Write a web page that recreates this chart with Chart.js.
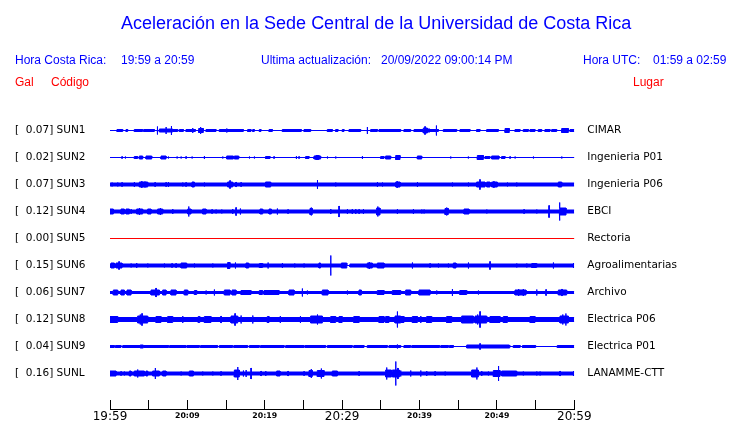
<!DOCTYPE html>
<html><head><meta charset="utf-8">
<script src="https://cdn.jsdelivr.net/npm/chart.js@4/dist/chart.umd.min.js"></script>
<style>
body{margin:0;background:#fff;}
#wrap{position:relative;width:740px;height:423px;overflow:hidden;background:#fff;}
canvas{position:absolute;left:0;top:0;}
.t{position:absolute;font-family:"Liberation Sans",Arial,sans-serif;white-space:pre;line-height:1;}
.b{color:#0000ff;font-size:12px;}
.r{color:#ff0000;font-size:12px;}
</style></head><body>
<div id="wrap">
<canvas id="c" width="740" height="423"></canvas>
<div class="t" style="left:121px;top:14px;font-size:18px;color:#0000ff">Aceleración en la Sede Central de la Universidad de Costa Rica</div>
<div class="t b" style="left:15px;top:54px">Hora Costa Rica:</div>
<div class="t b" style="left:121px;top:54px">19:59 a 20:59</div>
<div class="t b" style="left:261px;top:54px">Ultima actualización:</div>
<div class="t b" style="left:381px;top:54px">20/09/2022 09:00:14 PM</div>
<div class="t b" style="left:583px;top:54px">Hora UTC:</div>
<div class="t b" style="left:653px;top:54px">01:59 a 02:59</div>
<div class="t r" style="left:15px;top:76px">Gal</div>
<div class="t r" style="left:51px;top:76px">Código</div>
<div class="t r" style="left:633px;top:76px">Lugar</div>
</div>
<script>
// ---- data ----
const stationCodes = ['SUN1','SUN2','SUN3','SUN4','SUN5','SUN6','SUN7','SUN8','SUN9','SUNL'];
const galValues    = ['0.07','0.02','0.07','0.12','0.00','0.15','0.06','0.12','0.04','0.16'];
const placeNames   = ['CIMAR','Ingenieria P01','Ingenieria P06','EBCI','Rectoria','Agroalimentarias','Archivo','Electrica P06','Electrica P01','LANAMME-CTT'];
const timeTickMinutes = [0,5,10,15,20,25,30,35,40,45,50,55,60];
const timeTickLabels  = ['19:59','','20:09','','20:19','','20:29','','20:39','','20:49','','20:59'];

// background (quiet) peak-to-peak amplitude of each trace
const baseAmp = [1,1,4,4,1,4,3,5,3,4];

// events: [minute, p2p] for single spikes, [startMin, endMin, p2p] for bursts
const sun1Events = [[0.9,1.64,3],[2.07,2.28,3],[3.14,4.22,3],[4.35,5.73,3],[6.12,9],[6.38,8.1,4],[7.24,8],[7.93,10],[8.1,8.75,3],[8.96,9.48,3],[9.82,11.03,3],[10.68,6],[11.46,12.06,5],[11.7,8],[12.41,13.7,3],[14.13,17.23,3],[15.08,5],[17.79,18.22,3],[18.44,18.65,3],[19.3,19.51,3],[20.55,20.98,3],[22.27,24.72,3],[25.07,25.93,3],[28.09,28.73,3],[29.16,29.46,3],[30.02,30.24,3],[30.89,32.39,3],[33.25,8],[33.69,34.55,3],[34.76,37.56,3],[37.99,38.85,3],[39.29,40.49,3],[40.49,41.01,6],[40.7,9],[41.01,41.35,4],[41.35,42.43,3],[42.17,11],[43.08,44.8,3],[45.23,46.52,3],[47.38,47.81,3],[48.68,50.18,3],[51.05,51.6,5],[52.34,52.98,3],[53.41,54.06,3],[54.28,54.92,3],[55.35,55.78,3],[56.21,56.86,3],[57.08,57.72,3],[58.37,59.23,5],[59.45,60,3]];
const sun2Events = [[1.55,3],[1.98,3],[3.14,3.57,3],[3.79,4.22,4],[4.65,5.39,4],[6.59,7.24,4],[7.54,3],[8.66,3],[9.18,3],[9.82,3],[10.6,3],[12.19,4],[14.56,3],[15.08,15.94,4],[16.07,16.63,4],[18.01,3],[18.65,3],[20.1,20.68,3],[21.19,3],[24.08,4],[24.42,3],[25.28,25.72,3],[26.36,27.22,4],[26.6,27.0,5],[28.09,3],[29.16,3],[32.61,4],[34.98,35.41,3],[35.62,36.27,4],[36.92,37.48,5],[39.72,40.28,4],[44.02,3],[46.3,3],[47.47,48.25,5],[48.46,49.1,3],[49.32,50.27,4],[50.61,51.05,3],[51.69,3],[52.34,3],[54.71,3],[58.37,3]];
const sun3Events = [[0.26,5],[0.99,5],[1.55,5],[3.14,6],[3.79,4.87,6],[4.1,8],[4.5,7],[5.82,6],[7.24,6],[7.54,6],[9.39,5],[9.82,5],[10.6,10.9,6],[12.19,5],[15.2,15.85,6],[15.5,9],[16.28,6],[16.93,6],[20.1,20.76,6],[26.8,10],[29.16,5],[34.55,6],[35.2,5],[36.92,37.48,6],[37.1,8],[39.72,6],[44.24,5],[46.31,5],[47.38,48.46,6],[47.8,11],[48.68,49.1,6],[49.32,50.05,6],[49.6,8],[51.35,5],[52.55,5],[57.94,58.37,6]];
const sun4Events = [[0,0.43,6],[1.42,1.85,6],[2.07,2.5,6],[2.72,6],[3.44,4.22,6],[3.8,8],[4.87,5.3,6],[6.16,6.81,6],[6.5,8],[8.1,6],[10.04,10.47,6],[10.17,11],[11.97,12.41,6],[13.18,5],[13.7,5],[14.43,5],[15.85,6],[16.28,9],[16.84,7],[19.39,19.73,6],[20.55,20.85,6],[21.62,7],[23.0,5],[25.84,26.15,7],[26.0,9],[28.52,6],[29.59,12],[30.67,6],[31.3,6],[31.75,6],[32.18,6],[32.74,6],[34.46,34.89,8],[34.6,11],[37.13,6],[39.2,6],[40.28,5],[40.58,5],[43.29,43.72,7],[43.5,9],[45.75,46.39,6],[48.68,5],[53.5,6],[55.14,5],[56.73,13],[58.07,19],[58.15,58.93,8]];
const sun5Events = [];
const sun6Events = [[0.13,0.56,6],[0.78,1.55,6],[1.16,9],[2.72,5],[3.44,6],[4.87,5],[7.02,5],[8.01,5],[8.53,6],[9.18,9.9,6],[10.9,5],[13.27,5],[15.2,15.5,7],[16.2,7],[17.58,17.92,6],[19.3,19.73,5],[20.42,7],[22.27,6],[23.86,5],[25.07,5],[27.0,27.2,6],[28.52,21],[29.9,30.6,6],[30.6,31.0,1],[33.25,33.9,6],[33.5,8],[34.55,35.41,6],[39.07,7],[41.35,5],[42.43,5],[43.72,5],[44.37,44.71,6],[46.31,7],[49.1,9],[52.55,5],[53.85,5],[54.49,55.14,5],[57.29,7],[59.88,6]];
const sun7Events = [[0.43,0.99,6],[1.42,1.85,6],[2.2,2.72,6],[5.3,6.38,6],[5.94,10],[6.81,7.24,6],[7.88,8.53,6],[9.6,10.04,6],[10.9,11.2,5],[12.41,5],[13.48,7],[14.78,15.51,6],[15.77,16.28,6],[16.93,18.22,5],[19.3,19.7,5],[19.9,21.84,5],[23.13,23.78,6],[24.85,9],[25.5,5],[27.44,28.17,6],[30.67,5],[32.18,32.48,6],[34.55,35.41,5],[36.49,37.56,5],[38.21,38.85,6],[39.93,41.35,6],[42.21,5],[44.24,8],[45.2,46.1,5],[47.6,5],[52.34,53.76,6],[52.8,8],[53.4,8],[55.14,7],[56.34,7],[57.94,59.01,6],[58.4,8]];
const sun8Events = [[0,0.99,7],[3.57,4.87,8],[3.9,11],[4.13,13],[5.94,6.59,7],[7.45,8.1,7],[9.39,8],[11.4,11.6,7],[12.19,13.05,7],[14.34,8],[15.64,16.5,8],[16.15,13],[16.93,9],[18.44,9],[20.33,20.55,7],[22.0,8],[24.6,8],[25.93,27.44,8],[26.8,11],[28.52,29.16,7],[29.6,30.0,7],[31.5,32.2,7],[34.76,35.41,7],[35.62,36.05,7],[36.83,37.56,8],[37.13,17],[37.56,37.99,7],[39.07,39.72,7],[40.15,8],[40.92,41.57,7],[43.5,44.15,7],[45.45,46.95,8],[47.17,48.68,8],[47.5,11],[47.81,17],[49.1,50.4,7],[50.83,51.35,7],[54.28,54.92,7],[58.15,59.23,8],[58.5,11],[58.9,13]];
const sun9Events = [[0.56,0.69,1],[1.42,1.64,1],[3.9,4.3,4],[7.58,7.7,1],[9.82,9.95,1],[11.55,11.7,1],[13.9,14.13,1],[15.85,16.0,1],[17.79,18.01,1],[19.3,19.45,1],[22.5,22.7,1],[25.07,25.2,1],[27.87,28.09,1],[31.3,31.5,1],[32.82,33.25,1],[35.84,36.05,1],[37.13,5],[37.56,37.99,1],[38.85,39.0,1],[42.6,42.75,1],[43.72,43.85,1],[44.37,46.09,1],[46.1,51.6,4],[47.81,7],[51.69,52.12,1],[53.0,53.3,1],[55.0,57.8,1]];
const sunLEvents = [[0,0.78,6],[1.42,5],[1.85,5],[2.5,2.72,6],[3.14,4.44,6],[3.57,9],[4.65,4.87,6],[5.51,6.38,6],[5.85,12],[6.81,7.24,6],[9.18,5],[10.25,10.77,6],[11.97,5],[13.27,5],[14.34,5],[16.07,16.71,8],[16.5,14],[17.23,7],[17.58,8],[18.22,12],[19.51,6],[20.12,6],[21.54,21.97,6],[23.0,6],[25.07,6],[25.72,26.15,7],[26.0,10],[26.79,27.66,7],[27.3,11],[28.73,29.38,6],[32.18,6],[35.62,36.36,8],[35.75,13],[36.49,37.4,8],[36.92,25],[37.2,12],[37.56,7],[38.85,7],[40.15,7],[40.92,6],[42.0,6],[43.3,5],[46.74,47.6,8],[47.4,13],[48.03,6],[48.89,5],[49.54,50.4,7],[50.2,16],[50.61,52.55,6],[53.4,5],[55.14,5],[55.57,5],[58.15,6],[59.88,6]];
const traceEvents = [sun1Events,sun2Events,sun3Events,sun4Events,sun5Events,sun6Events,sun7Events,sun8Events,sun9Events,sunLEvents];

// ---- rendering ----
const ROW_GAP = 27;        // vertical spacing between traces (axis units)
const SPIKE_W = 0.02;      // drawn width of a single spike (minutes)
const LINE_W = 1;

function envelope(base, events){
  const evs = events.map(e => e.length === 2 ? [e[0], e[0] + SPIKE_W, e[1]] : e)
                    .map(e => [Math.max(0, e[0]), Math.min(60, e[1]), e[2]]);
  const b = new Set([0, 60]);
  evs.forEach(e => { b.add(e[0]); b.add(e[1]); });
  const xs = [...b].sort((p, q) => p - q);
  const pts = [];
  for (let k = 0; k < xs.length - 1; k++) {
    const a = xs[k], c = xs[k + 1], m = (a + c) / 2;
    let h = null;
    evs.forEach(e => { if (e[0] <= m && m <= e[1]) h = (h === null) ? e[2] : Math.max(h, e[2]); });
    if (h === null) h = base;
    pts.push([a, h], [c, h]);
  }
  return pts;
}

const rowValue = i => (stationCodes.length - 1 - i) * ROW_GAP;
const rowIndex = v => stationCodes.length - 1 - Math.round(v / ROW_GAP);

const datasets = [];
stationCodes.forEach((code, i) => {
  const row = rowValue(i);
  const env = envelope(baseAmp[i], traceEvents[i]);
  const col = galValues[i] === '0.00' ? '#ff0000' : '#0000ff';
  const half = p => Math.max(0, (p - LINE_W) / 2);
  datasets.push({label: code + '+', data: env.map(p => ({x: p[0], y: row + half(p[1])})),
    borderColor: col, borderWidth: LINE_W, pointRadius: 0, fill: false, tension: 0});
  datasets.push({label: code + '-', data: env.map(p => ({x: p[0], y: row - half(p[1])})),
    borderColor: col, backgroundColor: col, borderWidth: LINE_W, pointRadius: 0, fill: '-1', tension: 0});
});

const rowTicks = s => { s.ticks = stationCodes.map((c, i) => ({value: rowValue(i)})).reverse(); };
const yMin = -35.5, yMax = 255.5;
const labelFont = {family: 'DejaVu Sans', size: 10.5};

new Chart(document.getElementById('c'), {
  type: 'line',
  data: {datasets},
  options: {
    responsive: false, animation: false, events: [],
    layout: {padding: {left: 15, top: 118, right: 0, bottom: 0}},
    plugins: {legend: {display: false}, tooltip: {enabled: false}, title: {display: false}},
    scales: {
      x: {
        type: 'linear', min: 0, max: 60, position: 'bottom',
        afterBuildTicks: s => { s.ticks = timeTickMinutes.map(v => ({value: v})); },
        afterFit: s => { s.height = 14; },
        grid: {display: true, drawOnChartArea: false, drawTicks: true, tickLength: -9, color: '#000', lineWidth: 1},
        border: {display: true, color: '#000', width: 1},
        ticks: {
          autoSkip: false, maxRotation: 0, minRotation: 0, padding: 9.3, color: '#000',
          callback: (v, i) => timeTickLabels[i],
          font: ctx => (ctx.index % 6 === 0)
            ? {family: 'DejaVu Sans', size: 12, lineHeight: 1.2}
            : {family: 'DejaVu Sans', size: 7.8, weight: 'bold', lineHeight: 1.6}
        }
      },
      y: {
        type: 'linear', position: 'left', min: yMin, max: yMax,
        afterBuildTicks: rowTicks,
        afterFit: s => { s.width = 95; },
        grid: {display: false}, border: {display: false},
        ticks: {autoSkip: false, crossAlign: 'far', padding: 0, color: '#000', font: labelFont,
          callback: v => { const i = rowIndex(v); return '[  ' + galValues[i] + '] ' + stationCodes[i]; }}
      },
      y2: {
        type: 'linear', position: 'right', min: yMin, max: yMax,
        afterBuildTicks: rowTicks,
        afterFit: s => { s.width = 165.7; },
        grid: {display: false, drawTicks: true, tickLength: 13}, border: {display: false},
        ticks: {autoSkip: false, crossAlign: 'near', padding: 0, color: '#000', font: labelFont,
          callback: v => placeNames[rowIndex(v)]}
      }
    }
  }
});
</script>
</body></html>
